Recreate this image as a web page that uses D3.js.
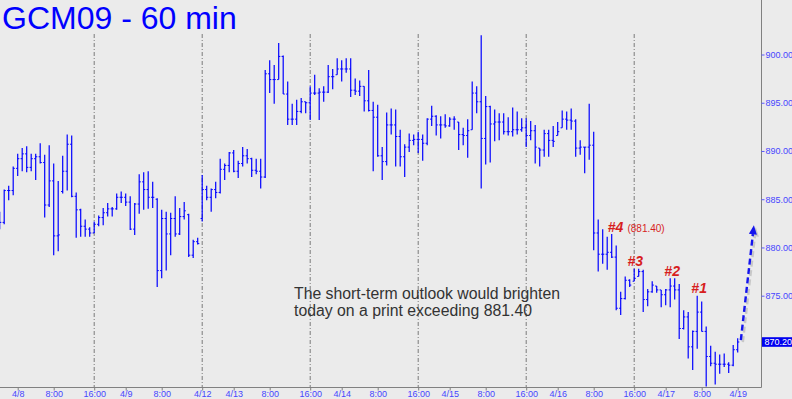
<!DOCTYPE html>
<html>
<head>
<meta charset="utf-8">
<script src="https://cdn.jsdelivr.net/npm/d3@7/dist/d3.min.js"></script>
<style>
  html, body { margin: 0; padding: 0; background: #ebebeb; }
  svg { display: block; }
</style>
</head>
<body>
<svg id="chart" width="792" height="399"></svg>
<script>
// ---------- DATA (GCM09 hourly bars, 4/8 .. 4/19) ----------
const highs = [
 883.7,886.0,886.4,888.4,889.7,890.3,890.5,889.7,889.7,890.8,
 889.6,890.6,888.7,886.9,889.5,891.7,891.6,885.7,884.0,882.9,
 882.1,882.7,883.3,884.1,884.6,884.2,885.6,885.8,885.6,885.3,
 884.6,887.6,887.8,887.9,886.8,885.1,883.9,883.7,883.6,885.3,
 884.1,884.7,883.5,880.8,881.0,887.5,886.4,886.1,886.8,889.2,
 888.7,889.9,890.1,889.0,890.4,890.2,889.3,889.2,889.2,898.4,
 899.4,898.9,901.2,899.9,897.2,894.9,895.3,895.5,895.1,896.7,
 897.9,896.5,896.7,898.9,898.5,899.6,899.4,899.6,899.6,897.5,
 897.3,896.7,898.4,895.1,894.8,890.4,894.0,894.4,894.3,892.2,
 890.7,891.8,891.7,892.0,891.7,893.4,894.7,893.7,893.6,893.8,
 893.5,893.6,893.0,892.4,893.3,897.2,896.7,902.0,895.7,894.7,
 894.3,893.9,893.9,893.5,894.5,894.1,893.4,893.4,893.1,892.7,
 890.3,892.2,892.2,892.6,893.0,894.2,894.1,894.4,893.3,891.1,
 890.4,894.9,892.0,882.9,881.9,881.1,881.4,880.2,875.4,877.0,
 876.7,877.8,877.8,877.7,875.7,876.5,876.0,875.6,875.7,876.8,
 876.8,876.2,873.5,873.3,871.4,875.0,874.4,871.8,869.8,869.2,
 868.9,869.0,868.1,869.9,870.6
];
const lows = [
 881.9,882.4,884.9,885.4,887.4,887.9,887.8,887.9,887.0,888.7,
 883.1,884.2,879.2,879.6,885.6,885.9,885.2,881.0,881.1,881.1,
 881.1,881.5,882.2,882.3,883.2,883.2,883.9,884.6,884.3,881.8,
 881.3,883.5,883.9,884.0,884.1,875.9,876.8,877.6,879.2,881.1,
 881.3,882.9,879.0,878.9,880.3,882.7,884.9,883.7,885.1,885.6,
 887.0,887.8,887.8,887.2,888.4,888.7,887.3,887.6,886.1,887.2,
 896.0,894.9,897.4,895.9,892.7,892.7,892.7,893.9,893.9,893.2,
 895.8,893.2,895.1,896.0,896.4,897.9,897.2,898.1,895.6,895.8,
 895.7,894.1,894.1,887.9,889.4,887.0,888.5,891.7,888.4,888.4,
 887.3,889.9,890.6,889.8,889.0,890.6,892.6,891.6,891.3,892.4,
 892.5,892.2,890.1,890.6,889.3,892.2,893.9,886.1,888.6,888.8,
 891.0,891.1,891.7,891.6,891.5,891.7,892.0,890.4,891.1,888.7,
 888.4,889.4,889.4,890.4,891.6,892.4,892.2,892.2,889.4,889.6,
 887.7,889.1,879.7,877.5,878.3,877.7,878.9,873.5,873.0,874.6,
 875.9,876.5,877.0,873.3,873.9,875.3,875.3,873.8,874.0,873.8,
 874.6,870.5,871.5,868.5,867.3,869.5,871.3,865.6,867.7,865.8,
 866.9,867.6,867.0,867.7,869.1
];
const opens = [
 883.0,882.6,885.9,885.9,888.2,889.2,889.7,888.3,889.2,889.4,
 888.8,884.4,886.9,881.2,885.8,887.9,890.7,885.3,883.9,882.2,
 881.9,881.5,882.4,883.1,883.6,884.0,884.0,885.2,885.2,884.7,
 881.9,884.5,886.8,886.0,885.2,885.0,877.6,883.0,881.4,883.0,
 881.4,883.2,883.4,879.2,880.6,883.0,886.0,885.2,886.0,885.7,
 888.1,888.5,889.8,887.9,888.7,889.5,889.2,888.0,887.9,887.3,
 898.0,897.4,897.4,899.8,895.9,893.3,893.3,894.1,895.1,895.0,
 896.0,896.0,896.1,896.1,897.7,897.9,898.5,898.5,898.5,896.3,
 896.2,896.7,895.2,894.2,893.5,889.5,888.9,892.7,892.7,891.5,
 889.4,890.4,891.1,891.2,891.2,890.8,893.3,893.6,892.7,892.7,
 892.6,893.3,893.0,891.7,891.6,892.2,896.0,895.1,891.3,894.6,
 892.8,893.0,893.0,892.0,892.0,892.2,892.2,892.4,891.6,892.1,
 890.3,890.1,891.8,891.1,891.6,892.4,893.3,893.2,893.1,890.3,
 890.4,890.4,890.6,881.5,879.3,879.3,879.5,879.0,873.7,874.7,
 876.6,876.5,877.0,877.5,874.6,875.4,876.0,875.6,875.1,875.6,
 876.0,875.6,871.6,872.8,869.7,871.3,873.3,871.3,868.7,868.0,
 867.9,867.9,867.9,867.8,869.4
];
const closes = [
 882.6,885.9,885.9,888.2,889.2,889.7,888.3,889.2,889.4,888.8,
 884.4,886.9,881.2,881.3,887.9,890.7,885.3,883.9,882.2,881.9,
 881.5,882.4,883.1,883.6,884.0,884.0,885.2,885.2,884.7,881.9,
 884.5,886.8,886.0,885.2,885.2,877.6,883.0,881.4,883.0,881.4,
 883.2,883.8,879.2,880.6,880.4,886.0,885.2,886.0,885.7,888.1,
 888.5,889.8,887.9,888.7,889.5,889.2,888.0,887.9,887.3,898.0,
 897.4,897.4,899.8,895.9,893.3,893.3,894.1,895.1,895.0,896.0,
 896.0,896.1,896.1,897.7,897.7,898.5,898.5,898.5,896.3,896.2,
 896.7,895.2,894.2,893.5,889.5,888.9,892.7,892.7,891.5,889.4,
 890.4,891.1,891.2,891.2,890.8,893.3,893.6,892.7,892.7,892.6,
 893.3,893.3,891.7,891.6,892.1,896.0,895.1,891.3,894.6,892.8,
 893.0,893.0,892.0,892.0,892.2,892.2,892.4,891.6,892.1,890.4,
 890.1,891.8,891.1,891.0,892.0,893.3,893.2,893.1,890.3,890.4,
 890.4,890.6,881.5,879.3,879.3,879.5,879.0,873.7,874.7,876.6,
 876.1,876.8,877.5,874.6,875.4,876.1,875.6,875.1,875.6,876.0,
 875.6,871.6,872.8,869.7,871.3,873.3,871.3,868.7,868.0,867.9,
 867.9,867.9,867.8,869.4,870.2
];

// time axis (bar index of each label)
const tickIdx    = [4, 12, 21, 28, 36, 45, 52, 60, 69, 76, 84, 93, 100, 108, 117, 124, 132, 141, 148, 156, 164];
const tickLabels = ["4/8","8:00","16:00","4/9","8:00","4/12","4/13","8:00","16:00","4/14","8:00","16:00","4/15","8:00","16:00","4/16","8:00","16:00","4/17","8:00","4/19"];
const gridIdx    = [21, 45, 69, 93, 117, 141];
const priceTicks = [875, 880, 885, 890, 895, 900];
const lastPrice  = 870.20;

const title = "GCM09 - 60 min";
const notes = [
  {text: "#4", idx: 135.1, price: 881.6, big: true},
  {text: "(881.40)", idx: 139.5, price: 881.6, big: false},
  {text: "#3", idx: 139.5, price: 878.1, big: true},
  {text: "#2", idx: 147.7, price: 877.0, big: true},
  {text: "#1", idx: 153.7, price: 875.3, big: true}
];
const comment = ["The short-term outlook would brighten", "today on a print exceeding 881.40"];
const arrowFrom = {idx: 164.7, price: 870.4};
const arrowTo   = {idx: 167.6, price: 882.3};

// ---------- DRAW ----------
const W = 792, H = 399;
const plotRight = 761, plotBottom = 387;
const svg = d3.select("#chart");

const bars = highs.map((h, i) => ({i, o: opens[i], h, l: lows[i], c: closes[i]}));

const x = d3.scaleLinear().domain([0, 164]).range([-0.3, 737.7]);
const y = d3.scaleLinear().domain([875, 900]).range([295.7, 54.5]);

svg.append("rect").attr("width", W).attr("height", H).attr("fill", "#ebebeb");

svg.append("defs").append("clipPath").attr("id", "plotclip")
  .append("rect").attr("x", 0).attr("y", 0).attr("width", plotRight).attr("height", plotBottom);

// gridlines
svg.append("g").selectAll("line").data(gridIdx).join("line")
  .attr("x1", d => x(d)).attr("x2", d => x(d))
  .attr("y1", 34).attr("y2", plotBottom)
  .attr("stroke", "#7a7a7a").attr("stroke-width", 1)
  .attr("stroke-dasharray", "4,2,1,2");

// OHLC bars
const gBars = svg.append("g").attr("clip-path", "url(#plotclip)")
  .attr("stroke", "#0000ff").attr("stroke-width", 1.2);
gBars.selectAll("line.hl").data(bars).join("line").attr("class", "hl")
  .attr("x1", d => x(d.i)).attr("x2", d => x(d.i))
  .attr("y1", d => y(d.h)).attr("y2", d => y(d.l));
gBars.selectAll("line.op").data(bars).join("line").attr("class", "op")
  .attr("x1", d => x(d.i) - 1.6).attr("x2", d => x(d.i))
  .attr("y1", d => y(d.o)).attr("y2", d => y(d.o)).attr("stroke-width", 1);
gBars.selectAll("line.cl").data(bars).join("line").attr("class", "cl")
  .attr("x1", d => x(d.i)).attr("x2", d => x(d.i) + 1.6)
  .attr("y1", d => y(d.c)).attr("y2", d => y(d.c)).attr("stroke-width", 1);

// axes lines
svg.append("line").attr("x1", plotRight + 0.5).attr("x2", plotRight + 0.5)
  .attr("y1", 0).attr("y2", plotBottom + 0.5).attr("stroke", "#808080").attr("stroke-width", 1);
svg.append("line").attr("x1", 0).attr("x2", plotRight + 0.5)
  .attr("y1", plotBottom + 0.5).attr("y2", plotBottom + 0.5).attr("stroke", "#808080").attr("stroke-width", 1);

// right price axis
const yAxis = d3.axisRight(y).tickValues(priceTicks).tickFormat(d3.format(".2f"))
  .tickSize(3).tickPadding(1);
const gy = svg.append("g").attr("transform", `translate(${plotRight + 0.5},0)`).call(yAxis);
gy.select(".domain").remove();
gy.selectAll(".tick line").attr("stroke", "#5a5aff");
gy.selectAll(".tick text").attr("fill", "#4646ff")
  .attr("font-family", "Liberation Sans, Arial, sans-serif").attr("font-size", 9);

// last price box
svg.append("rect").attr("x", plotRight + 1).attr("y", y(lastPrice) - 4.8)
  .attr("width", W - plotRight - 1).attr("height", 9.6).attr("fill", "#0000f0");
svg.append("text").attr("x", plotRight + 3.5).attr("y", y(lastPrice) + 3.3)
  .attr("fill", "#ffffff").attr("font-family", "Liberation Sans, Arial, sans-serif")
  .attr("font-size", 9).text(d3.format(".2f")(lastPrice));

// bottom time axis
const xAxis = d3.axisBottom(x).tickValues(tickIdx)
  .tickFormat((d, i) => tickLabels[i]).tickSize(3).tickPadding(0);
const gx = svg.append("g").attr("transform", `translate(0,${plotBottom + 0.5})`).call(xAxis);
gx.select(".domain").remove();
gx.selectAll(".tick line").attr("stroke", "#808080");
gx.selectAll(".tick text").attr("fill", "#4646ff")
  .attr("font-family", "Liberation Sans, Arial, sans-serif").attr("font-size", 9);

// title
svg.append("text").attr("x", 2).attr("y", 28.5).attr("fill", "#0000ff")
  .attr("font-family", "Liberation Sans, Arial, sans-serif").attr("font-size", 32)
  .text(title);

// red annotations
svg.append("g").selectAll("text").data(notes).join("text")
  .attr("x", d => x(d.idx)).attr("y", d => y(d.price))
  .attr("fill", "#d71e1e")
  .attr("font-family", "Liberation Sans, Arial, sans-serif")
  .attr("font-style", d => d.big ? "italic" : "normal")
  .attr("font-weight", d => d.big ? "bold" : "normal")
  .attr("font-size", d => d.big ? 14 : 10)
  .text(d => d.text);

// comment text
svg.append("g").selectAll("text").data(comment).join("text")
  .attr("x", 294).attr("y", (d, i) => 298.5 + i * 17)
  .attr("fill", "#333333")
  .attr("font-family", "Liberation Sans, Arial, sans-serif").attr("font-size", 15.8)
  .text(d => d);

// dashed arrow with shadow
const ax1 = x(arrowFrom.idx), ay1 = y(arrowFrom.price);
const ax2 = x(arrowTo.idx), ay2 = y(arrowTo.price);
const ang = Math.atan2(ay2 - ay1, ax2 - ax1);
const headLen = 9, headW = 4;
const bx = ax2 - headLen * Math.cos(ang), by = ay2 - headLen * Math.sin(ang);
const head = [
  [ax2, ay2],
  [bx + headW * Math.sin(ang), by - headW * Math.cos(ang)],
  [bx - headW * Math.sin(ang), by + headW * Math.cos(ang)]
];
function drawArrow(g, color, dx, dy) {
  g.append("line").attr("x1", ax1 + dx).attr("y1", ay1 + dy).attr("x2", bx + dx).attr("y2", by + dy)
    .attr("stroke", color).attr("stroke-width", 2.4).attr("stroke-dasharray", "6,3.5");
  g.append("polygon").attr("points", head.map(p => [p[0] + dx, p[1] + dy].join(",")).join(" "))
    .attr("fill", color);
}
const gShadow = svg.append("g").attr("opacity", 0.35);
drawArrow(gShadow, "#888888", 2, 2);
drawArrow(svg.append("g"), "#1414ee", 0, 0);
</script>
</body>
</html>
